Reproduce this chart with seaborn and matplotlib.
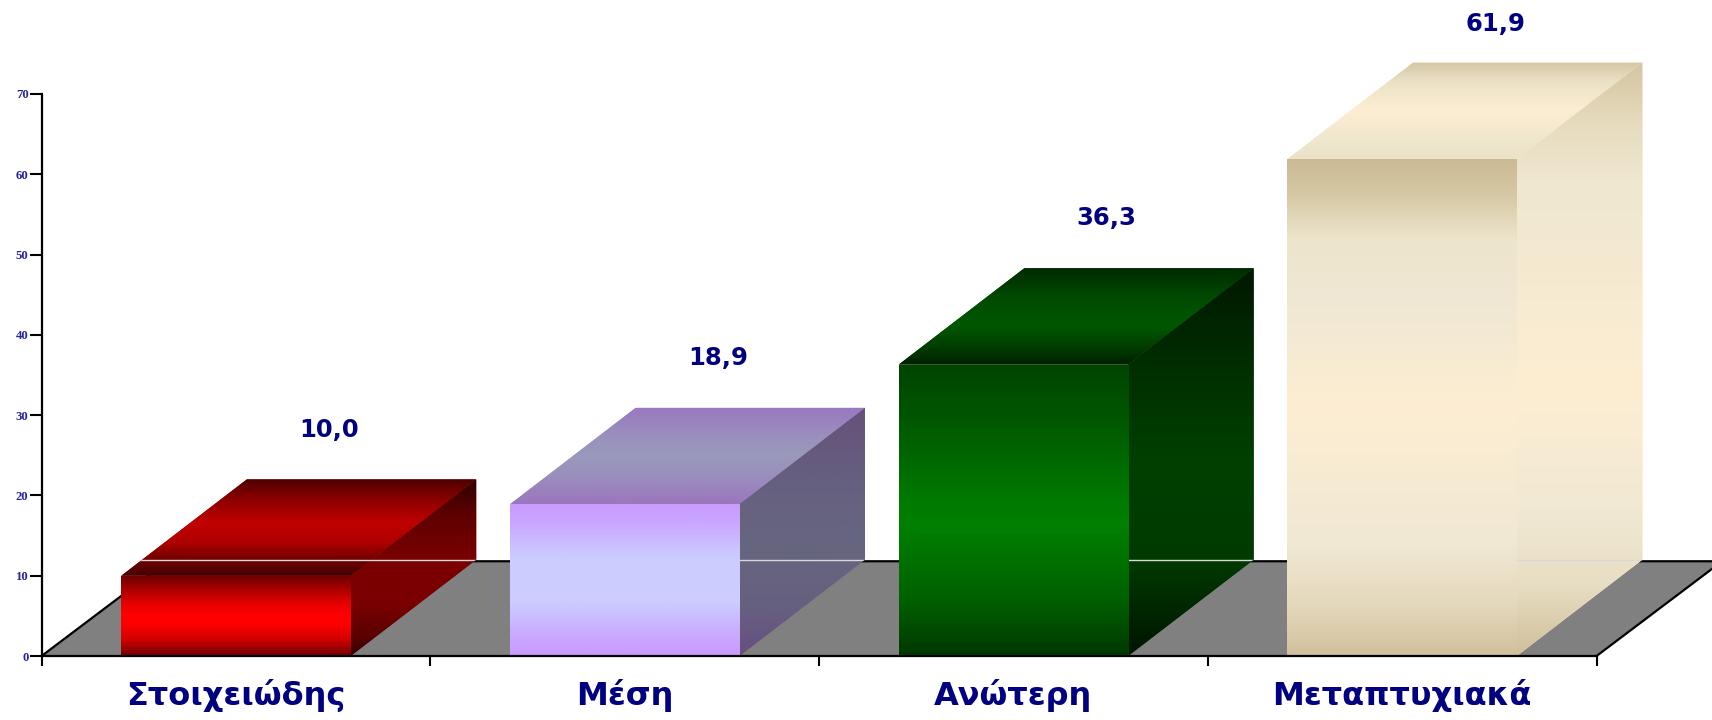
import numpy as np
import pandas as pd
import matplotlib
matplotlib.use("Agg")
import matplotlib.pyplot as plt
from matplotlib.colors import LinearSegmentedColormap
from matplotlib.patches import Polygon
import seaborn as sns

# ---- data -------------------------------------------------------------
categories = ["Στοιχειώδης", "Μέση", "Ανώτερη", "Μεταπτυχιακά"]
values = [10.0, 18.9, 36.3, 61.9]
value_labels = ["10,0", "18,9", "36,3", "61,9"]
y_ticks = [0, 10, 20, 30, 40, 50, 60, 70]

# base colours of the front faces
base_colors = ["#ff0000", "#ccccff", "#008000", "#fdeed2"]

# gradient stops for each face, position 0 = top of the face, 1 = bottom
front_stops = [
    [(0, "#6a0000"), (0.15, "#a00000"), (0.35, "#e60000"), (0.5, "#ff0000"),
     (0.6, "#ff0000"), (0.8, "#d00000"), (1, "#700000")],
    [(0, "#c99aff"), (0.1, "#c9a4ff"), (0.35, "#ccccff"), (0.65, "#ccccff"),
     (0.9, "#c9a4ff"), (1, "#c99aff")],
    [(0, "#004400"), (0.2, "#005800"), (0.45, "#007800"), (0.55, "#008000"),
     (0.8, "#006200"), (1, "#003800")],
    [(0, "#cbb995"), (0.07, "#d6c8a4"), (0.16, "#ede4cc"), (0.3, "#f0e8d4"),
     (0.5, "#fdeed2"), (0.78, "#f0e8d4"), (0.9, "#e4d8bc"), (1, "#d2c09c")],
]
top_stops = [
    [(0, "#4d0000"), (0.2, "#8a0000"), (0.45, "#c00000"), (0.65, "#b00000"),
     (0.85, "#6a0000"), (1, "#450000")],
    [(0, "#9977c0"), (0.3, "#9a90bd"), (0.5, "#9999bb"), (0.7, "#9a90bd"),
     (1, "#9a76bd")],
    [(0, "#002a00"), (0.3, "#004a00"), (0.6, "#005800"), (0.85, "#003800"),
     (1, "#001f00")],
    [(0, "#d4c6a4"), (0.2, "#ebe1c6"), (0.5, "#fdeed2"), (0.8, "#f0e7cf"),
     (1, "#ebe2c8")],
]
side_stops = [
    [(0, "#300000"), (0.2, "#5e0000"), (0.45, "#7a0000"), (0.7, "#7a0000"),
     (0.9, "#5a0000"), (1, "#300000")],
    [(0, "#66507a"), (0.3, "#666080"), (0.55, "#66667f"), (0.8, "#666080"),
     (1, "#664f80")],
    [(0, "#001800"), (0.25, "#002e00"), (0.5, "#004000"), (0.75, "#003a00"),
     (0.9, "#002400"), (1, "#001400")],
    [(0, "#d4c5a2"), (0.1, "#e6dbbd"), (0.2, "#efe7d0"), (0.55, "#fdeed2"),
     (0.75, "#f1e9d3"), (0.88, "#e8dec4"), (1, "#d0bf9a")],
]

# ---- 3-D look parameters ----------------------------------------------
DEPTH_X = 0.323      # horizontal shift of the back faces (category units)
DEPTH_Y = 12.0       # vertical shift of the back faces (value units)
FLOOR_DEPTH = 11.8
BAR_WIDTH = 0.59
LABEL_CEILING = 78.7
NAVY = "#000080"
TICK_BLUE = "#24249c"


def gradient_face(ax, verts, stops, zorder):
    """Fill a polygon with a vertical colour gradient."""
    poly = Polygon(verts, closed=True, facecolor=stops[len(stops) // 2][1],
                   edgecolor="none", zorder=zorder)
    ax.add_patch(poly)
    xs = [p[0] for p in verts]
    ys = [p[1] for p in verts]
    cmap = LinearSegmentedColormap.from_list("face", stops)
    grad = np.linspace(0, 1, 256).reshape(-1, 1)
    im = ax.imshow(grad, cmap=cmap, vmin=0, vmax=1,
                   extent=(min(xs), max(xs), min(ys), max(ys)),
                   origin="upper", aspect="auto", interpolation="bilinear",
                   zorder=zorder + 0.05)
    im.set_clip_path(poly)
    return poly


sns.set_theme(style="white")
fig = plt.figure(figsize=(17.12, 7.2), dpi=100)
ax = fig.add_axes([0, 0, 1, 1])
ax.set_facecolor("white")

df = pd.DataFrame({"level": categories, "pct": values})
sns.barplot(data=df, x="level", y="pct", hue="level", palette=base_colors,
            width=BAR_WIDTH, saturation=1, legend=False, errorbar=None,
            linewidth=0, edgecolor="none", ax=ax, zorder=3)
bars = sorted(ax.patches, key=lambda p: p.get_x())

# floor
n = len(categories)
x_left, x_right = -0.5, n - 0.5
floor = Polygon([(x_left, 0), (x_left + DEPTH_X, FLOOR_DEPTH),
                 (x_right + DEPTH_X, FLOOR_DEPTH), (x_right, 0)],
                closed=True, facecolor="#808080", edgecolor="none", zorder=0.5)
ax.add_patch(floor)
ax.plot([x_left, x_left + DEPTH_X, x_right + DEPTH_X + 0.5],
        [0, FLOOR_DEPTH, FLOOR_DEPTH], color="black", lw=1.6, zorder=0.6,
        solid_capstyle="butt")
ax.plot([x_right, x_right + DEPTH_X], [0, FLOOR_DEPTH], color="black",
        lw=1.6, zorder=0.6)

# 3-D boxes built on the seaborn rectangles
for i, bar in enumerate(bars):
    l = bar.get_x()
    r = l + bar.get_width()
    v = bar.get_height()
    cx = l + bar.get_width() / 2

    # front face gradient clipped to the bar rectangle
    cmap = LinearSegmentedColormap.from_list("front", front_stops[i])
    grad = np.linspace(0, 1, 256).reshape(-1, 1)
    im = ax.imshow(grad, cmap=cmap, vmin=0, vmax=1, extent=(l, r, 0, v),
                   origin="upper", aspect="auto", interpolation="bilinear",
                   zorder=3.05)
    im.set_clip_path(bar)

    # top and side faces
    gradient_face(ax, [(l, v), (r, v), (r + DEPTH_X, v + DEPTH_Y),
                       (l + DEPTH_X, v + DEPTH_Y)], top_stops[i], 2)
    gradient_face(ax, [(r, 0), (r + DEPTH_X, DEPTH_Y),
                       (r + DEPTH_X, v + DEPTH_Y), (r, v)], side_stops[i], 2)

    # faint back-bottom edge seen through the box
    outline = Polygon([(l, v), (r, v), (r, 0), (r + DEPTH_X, DEPTH_Y),
                       (r + DEPTH_X, v + DEPTH_Y), (l + DEPTH_X, v + DEPTH_Y)],
                      closed=True, transform=ax.transData)
    ln, = ax.plot([l, r + DEPTH_X], [DEPTH_Y, DEPTH_Y], color="#d8d8d8",
                  lw=1.0, zorder=2.5)
    ln.set_clip_path(outline)

    # value label above the box, kept inside the chart
    ax.text(cx + 0.24, min(v + DEPTH_Y + 6.2, LABEL_CEILING), value_labels[i],
            ha="center", va="center", fontsize=17.5, fontweight="bold",
            color=NAVY, family="DejaVu Sans", zorder=5)
    # category label under the bar
    ax.text(cx, -4.9, categories[i], ha="center", va="center", fontsize=23,
            fontweight="bold", color=NAVY, family="DejaVu Sans", zorder=5)

# axes
ax.set_xlim(-0.607, 3.797)
ax.set_ylim(-7.97, 81.7)
ax.set_xlabel("")
ax.set_ylabel("")
ax.grid(False)
for side in ("top", "right"):
    ax.spines[side].set_visible(False)
ax.spines["left"].set_position(("data", -0.5))
ax.spines["left"].set_bounds(0, 70)
ax.spines["bottom"].set_position(("data", 0))
ax.spines["bottom"].set_bounds(-0.5, n - 0.5)
for side in ("left", "bottom"):
    ax.spines[side].set_color("black")
    ax.spines[side].set_linewidth(1.6)
    ax.spines[side].set_zorder(4)

ax.set_xticks(np.arange(n + 1) - 0.5)
ax.set_xticklabels([])
ax.tick_params(axis="x", bottom=True, direction="out", length=7, width=1.5,
               color="black")
ax.set_yticks(y_ticks)
ax.set_yticklabels([str(t) for t in y_ticks])
ax.tick_params(axis="y", left=True, direction="out", length=8.4, width=1.5,
               color="black", pad=1, labelsize=9.2, labelcolor=TICK_BLUE)
for lbl in ax.get_yticklabels():
    lbl.set_fontfamily("Liberation Serif")
    lbl.set_fontweight("bold")

fig.savefig("out.png", dpi=100)
